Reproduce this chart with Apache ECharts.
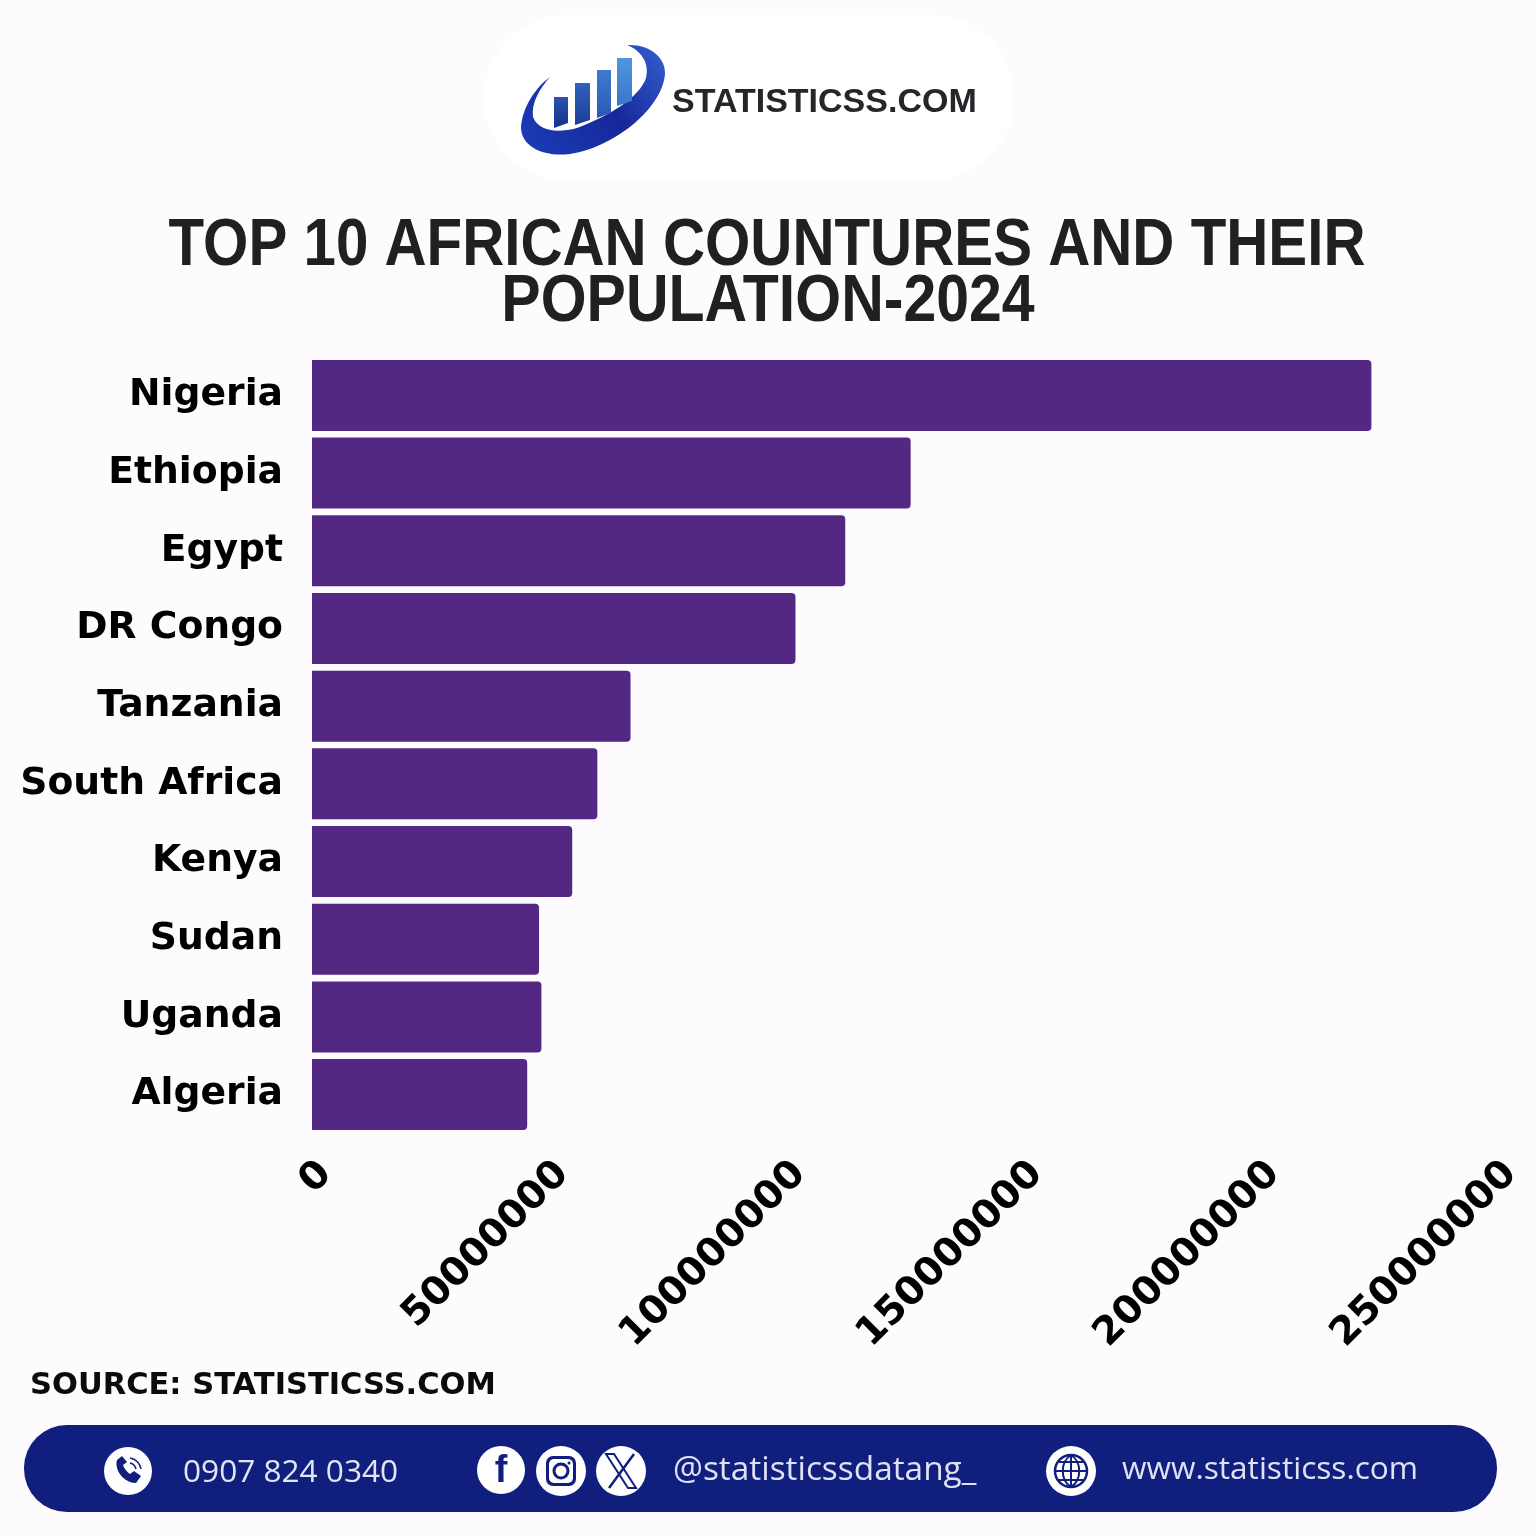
<!DOCTYPE html>
<html><head><meta charset="utf-8">
<style>html,body{margin:0;padding:0;background:#fdfbfe}#c{width:1536px;height:1536px}</style>
<script src="https://cdn.jsdelivr.net/npm/echarts@6/dist/echarts.min.js"></script>
</head><body><div id="c"></div>
<script>
const countries = ['Nigeria','Ethiopia','Egypt','DR Congo','Tanzania','South Africa','Kenya','Sudan','Uganda','Algeria'];
const population = [223500000,126300000,112500000,102000000,67200000,60200000,54900000,47900000,48400000,45400000];
const titleLines = ['TOP 10 AFRICAN COUNTURES AND THEIR','POPULATION-2024'];
const sourceText = 'SOURCE: STATISTICSS.COM';
const phone = '0907 824 0340', handle = '@statisticssdatang_', website = 'www.statisticss.com', brand = 'STATISTICSS.COM';

const NAVY = '#101e7d';
const W = '#ffffff';
let pathId = 0;
const pathEl = (d,style) => { const name='p'+(pathId++); echarts.graphic.registerShape(name,echarts.graphic.extendPath(d,{})); return {type:name,style}; };
const txt = (x,y,text,font,fill,align,extra,more) => Object.assign({type:'text',x,y,style:Object.assign({text,font,fill,align:align||'left',verticalAlign:'middle'},extra||{})},more||{});
const circle = (cx,cy,r,fill,stroke,lw) => ({type:'circle',shape:{cx,cy,r},style:{fill:fill||'none',stroke:stroke||null,lineWidth:lw||0}});
const grad = (a,b) => new echarts.graphic.LinearGradient(0,1,0,0,[{offset:0,color:a},{offset:1,color:b}]);
const rect = (x,y,w,h,fill,r) => ({type:'rect',shape:{x,y,width:w,height:h,r:r||0},style:{fill}});
const skewBar = (x,w,top,bottom,a,b) => ({type:'polygon',shape:{points:[[x,bottom],[x+w,bottom-5],[x+w,top],[x,top]]},style:{fill:grad(a,b)}});

const graphics = [
  rect(484,15,530,165,W,82),
  pathEl('M550 77 C535 88 522 108 521 128 C522 148 545 157 570 154 C612 148 662 110 665 74 C666 58 650 44 627 45 C640 50 650 62 646 78 C640 96 612 115 577 128 C555 134 538 130 533 117 C531 103 540 88 550 77 Z',{fill:new echarts.graphic.LinearGradient(0,1,1,0,[{offset:0,color:'#1c3db8'},{offset:.55,color:'#16289a'},{offset:1,color:'#3560d0'}])}),
  skewBar(554,14,97,128,'#16308c','#2a52ae'),
  skewBar(575,15,83,125,'#1c3f98','#3160be'),
  skewBar(597,14,70,118,'#2a58b4','#3f7ad0'),
  skewBar(617,15,58,106,'#3a75cc','#5095de'),
  txt(672,103,brand,'bold 34px "Liberation Sans"','#26262a'),

  txt(767,247,titleLines[0],'bold 66px "Liberation Sans"','#202020','center',null,{scaleX:0.883}),
  txt(768,303,titleLines[1],'bold 66px "Liberation Sans"','#202020','center',null,{scaleX:0.894}),

  txt(30,1386,sourceText,'bold 30.5px "DejaVu Sans"','#0b0b0b'),

  rect(24,1425,1473,87,NAVY,43),
  circle(128,1471,24,W),
  pathEl('M117 1460 C114 1470 124 1483 136 1483 L141 1476 L134 1471 L130 1474 C127 1472 124 1468 123 1465 L127 1462 L122 1456 Z',{fill:NAVY}),
  pathEl('M130 1458 A13 13 0 0 1 141 1469 M130 1463 A8 8 0 0 1 136 1469',{fill:'none',stroke:NAVY,lineWidth:1.5}),
  txt(183,1473,phone,'31.6px "Open Sans"','#e2e5f5'),

  circle(501,1470,24,W),
  txt(501,1472,'f','bold 38px "Liberation Sans"',NAVY,'center'),
  circle(561,1471,25,W),
  rect(546,1456,30,30,NAVY,7),
  rect(549,1459,24,24,W,5),
  circle(561,1471,7,'none',NAVY,3),
  circle(569,1463,1.5,NAVY),
  circle(621,1471,25,W),
  pathEl('M606 1454 L614 1454 L636 1488 L628 1488 Z',{fill:'none',stroke:NAVY,lineWidth:2}),
  pathEl('M634 1454 L609 1488',{fill:'none',stroke:NAVY,lineWidth:2.5}),
  txt(673,1470,handle,'33.4px "Open Sans"','#dfe2f4'),

  circle(1071,1471,25,W),
  circle(1071,1471,16,'none',NAVY,2.5),
  pathEl('M1056 1471 L1086 1471 M1071 1455 L1071 1487 M1059 1462 L1083 1462 M1059 1480 L1083 1480 M1071 1455 C1060 1462 1060 1480 1071 1487 M1071 1455 C1082 1462 1082 1480 1071 1487',{fill:'none',stroke:NAVY,lineWidth:2}),
  txt(1122,1470,website,'31.6px "Open Sans"','#dfe2f4')
];

const chart = echarts.init(document.getElementById('c'),null,{renderer:'canvas'});
chart.setOption({
  animation:false,
  backgroundColor:'#fdfbfe',
  grid:{left:312,top:356.6,width:1185,height:776.8,containLabel:false},
  xAxis:{type:'value',min:0,max:250000000,interval:50000000,
    splitLine:{show:false},axisLine:{show:false},axisTick:{show:false},
    axisLabel:{rotate:45,margin:21,verticalAlign:'top',formatter:v=>String(v),color:'#000',fontFamily:'"DejaVu Sans"',fontWeight:'bold',fontSize:39,hideOverlap:false,showMinLabel:true,showMaxLabel:true}},
  yAxis:{type:'category',inverse:true,data:countries,
    axisLine:{show:false},axisTick:{show:false},splitLine:{show:false},
    axisLabel:{margin:29,padding:[2,0,0,0],color:'#000',fontFamily:'"DejaVu Sans"',fontWeight:'bold',fontSize:37.7,interval:0}},
  series:[{type:'bar',data:population,barWidth:71,itemStyle:{color:'#532883',borderRadius:[0,4,4,0]},silent:true}],
  graphic:{elements:graphics.map(g=>Object.assign({silent:true,z:1},g))}
});
</script></body></html>
